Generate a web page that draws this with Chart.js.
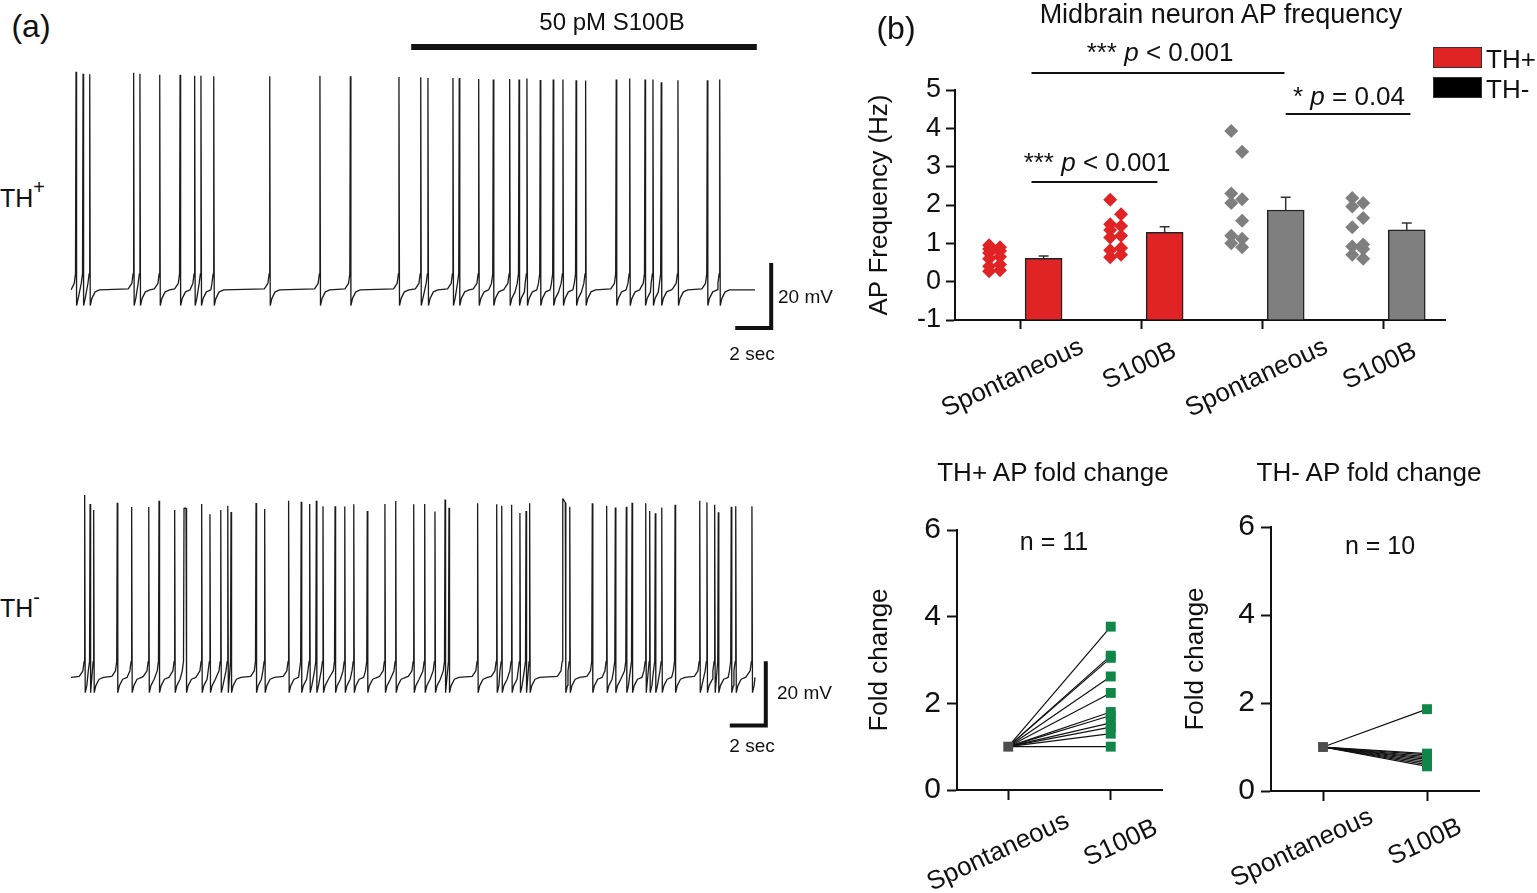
<!DOCTYPE html>
<html>
<head>
<meta charset="utf-8">
<title>Midbrain neuron AP frequency</title>
<script src="https://cdn.jsdelivr.net/npm/chart.js@4.4.1/dist/chart.umd.min.js"></script>
<style>
  body { margin: 0; background: #fff; font-family: "Liberation Sans", Arial, sans-serif; color: #111; }
  #page { position: relative; width: 1537px; height: 893px; overflow: hidden; }
  canvas { position: absolute; }
  .t { position: absolute; white-space: nowrap; line-height: 1; }
  .c { transform: translate(-50%, -50%); }
  .m { transform: translateY(-50%); }
  .box { position: absolute; box-sizing: border-box; border: 1.5px solid #333; }
  sup { font-size: 80%; vertical-align: 0.65em; line-height: 0; }
</style>
</head>
<body>
<div id="page">
  <canvas id="thPlusTrace" width="720" height="312" style="left:71px;top:30px"></canvas>
  <canvas id="thMinusTrace" width="720" height="250" style="left:71px;top:485px"></canvas>
  <canvas id="freqChart" width="677" height="440" style="left:860px;top:0px"></canvas>
  <canvas id="foldPlus" width="320" height="443" style="left:860px;top:450px"></canvas>
  <canvas id="foldMinus" width="357" height="443" style="left:1180px;top:450px"></canvas>

  <div class="t c" style="left:31px;top:26px;font-size:32px">(a)</div>
  <div class="t c" style="left:896px;top:28px;font-size:32px">(b)</div>
  <div class="t c" style="left:612px;top:22px;font-size:24px">50 pM S100B</div>
  <div class="t m" style="left:0px;top:198px;font-size:25px">TH<sup>+</sup></div>
  <div class="t m" style="left:0px;top:608px;font-size:25px">TH<sup>-</sup></div>
  <div class="t m" style="left:778px;top:296px;font-size:19px">20 mV</div>
  <div class="t c" style="left:752px;top:353px;font-size:19px">2 sec</div>
  <div class="t m" style="left:777px;top:692px;font-size:19px">20 mV</div>
  <div class="t c" style="left:752px;top:745px;font-size:19px">2 sec</div>

  <div class="t c" style="left:1221px;top:14px;font-size:27px">Midbrain neuron AP frequency</div>
  <div class="t c" style="left:1160px;top:52px;font-size:26px">*** <i>p</i> &lt; 0.001</div>
  <div class="t c" style="left:1097px;top:162px;font-size:26px">*** <i>p</i> &lt; 0.001</div>
  <div class="t c" style="left:1349px;top:96px;font-size:26px">* <i>p</i> = 0.04</div>
  <div class="box" style="left:1433px;top:47px;width:49px;height:21px;background:#e02426"></div>
  <div class="box" style="left:1433px;top:77px;width:49px;height:21px;background:#000"></div>
  <div class="t m" style="left:1486px;top:59px;font-size:26px">TH+</div>
  <div class="t m" style="left:1486px;top:89px;font-size:26px">TH-</div>

  <div class="t c" style="left:1053px;top:472px;font-size:26px">TH+ AP fold change</div>
  <div class="t c" style="left:1369px;top:472px;font-size:26px">TH- AP fold change</div>
  <div class="t c" style="left:1054px;top:541px;font-size:25px">n = 11</div>
  <div class="t c" style="left:1380px;top:545px;font-size:25px">n = 10</div>
</div>

<script>
// ---- data ----
// (a) spike times (s) and spike peaks (mV), baseline about -50 mV
var thPlusSpikeTimes = [0.28, 0.67, 1.04, 3.48, 3.83, 4.93, 6.06, 6.87, 7.22, 7.93, 11.04, 13.83, 15.52, 18.22,
    19.43, 19.83, 21.22, 21.57, 22.65, 23.46, 24.37, 24.89, 25.33, 26.07, 26.79, 27.33, 28.06, 28.59,
    30.29, 31.04, 31.89, 32.33, 32.79, 33.72, 35.35, 36.04];
var thPlusSpikePeaks = [17.0, 16.4, 16.2, 16.7, 16.4, 16.1, 16.1, 15.8, 15.8, 15.6, 15.6, 15.8, 15.6, 15.4,
    15.3, 15.1, 15.1, 15.1, 14.8, 14.6, 14.8, 14.6, 14.9, 14.5, 14.6, 14.6, 14.4, 14.3,
    14.6, 14.9, 14.6, 14.6, 13.8, 14.4, 14.4, 14.6];
var thMinusSpikeTimes = [0.76, 1.06, 1.26, 2.57, 3.37, 4.32, 4.89, 5.76, 6.28, 6.39, 7.26, 7.72, 8.32, 8.71, 8.89,
    10.28, 10.76, 12.09, 12.79, 13.26, 13.63, 14.0, 14.67, 15.21, 15.71, 16.46, 17.44, 18.04, 19.04,
    19.65, 20.22, 20.78, 21.0, 22.59, 23.65, 23.93, 24.48, 24.94, 25.28, 25.48, 27.32, 27.46, 27.71,
    28.96, 29.76, 30.24, 30.85, 31.17, 31.93, 32.15, 32.46, 32.82, 33.56, 34.93, 35.33, 35.76, 35.96,
    36.68, 36.93, 37.83];
var thMinusSpikePeaks = [6.9, 4.1, 2.2, 4.5, 3.1, 3.1, 5.1, 2.2, 2.8, 2.8, 4.1, 0.9, 2.2, 3.5, 1.6,
    4.4, 2.5, 5.1, 4.8, 4.1, 5.1, 3.4, 3.4, 3.3, 4.0, 1.9, 4.1, 5.0, 4.0,
    4.1, 1.7, 5.5, 2.9, 4.3, 4.0, 3.5, 3.8, 1.3, 1.9, 4.3, 5.8, 4.5, 3.2,
    4.3, 3.5, 3.0, 3.2, 4.5, 4.3, 1.9, 1.2, 3.0, 3.8, 5.1, 4.6, 3.8, 1.5,
    3.2, 3.4, 3.4];
var restingMv = -50;
var recordEnd = 38;          // s
var drugOn = [18.9, 38.1];   // 50 pM S100B
var scaleBarSec = 2;
var scaleBarMv = 20;

// (b) AP frequency (Hz)
var freqCategories = ['Spontaneous', 'S100B', 'Spontaneous', 'S100B'];
var freqTicks = [-1, 0, 1, 2, 3, 4, 5];
var freqMeans = [0.61, 1.29, 1.87, 1.35];
var freqSem = [0.06, 0.14, 0.33, 0.18];
var thPlusSpontHz = [0.95, 0.9, 0.85, 0.8, 0.75, 0.65, 0.6, 0.45, 0.4, 0.3, 0.27];
var thPlusS100bHz = [2.14, 1.76, 1.5, 1.45, 1.35, 1.2, 1.15, 0.88, 0.82, 0.7, 0.64];
var thMinusSpontHz = [3.93, 3.39, 2.3, 2.15, 2.05, 1.59, 1.2, 1.12, 1.0, 0.9];
var thMinusS100bHz = [2.18, 2.05, 1.96, 1.66, 1.42, 0.97, 0.92, 0.85, 0.7, 0.6];

// fold change
var foldCategories = ['Spontaneous', 'S100B'];
var foldTicks = [0, 2, 4, 6];
var thPlusFold = [3.77, 3.1, 3.05, 2.62, 2.24, 1.8, 1.72, 1.55, 1.45, 1.3, 1.0];
var thMinusFold = [1.86, 0.85, 0.82, 0.78, 0.75, 0.72, 0.68, 0.64, 0.6, 0.56];

// ---- drawing ----
var FONT = '"Liberation Sans", Arial, sans-serif';
var RED = '#e02426', GRAY = '#7f7f7f', GREEN = '#108648', INK = '#111';
Chart.defaults.font.family = FONT;
Chart.defaults.color = INK;

// spike waveform relative to rest: [dt (s), dV (mV)], null = peak
var spikeShape = [[-0.3, 0.3], [-0.1, 2], [-0.03, 5], [0, null], [0.03, -4.8], [0.12, -2.6], [0.3, -0.6], [0.55, 0]];

function buildTrace(times, peaks) {
    var pts = [{x: 0, y: restingMv}];
    times.forEach(function (t, i) {
        var prev = i > 0 ? times[i - 1] : -10;
        var next = i < times.length - 1 ? times[i + 1] : recordEnd + 10;
        spikeShape.forEach(function (s) {
            var x = t + s[0];
            if (s[0] > 0 && x >= next - 0.12) return;
            if (s[0] < 0 && (x <= prev + 0.12 || (s[0] < -0.1 && x <= prev + 0.6))) return;
            if (x < 0 || x > recordEnd) return;
            pts.push({x: x, y: s[1] === null ? peaks[i] : restingMv + s[1]});
        });
    });
    pts.push({x: recordEnd, y: restingMv});
    pts.sort(function (a, b) { return a.x - b.x; });
    return pts;
}

function traceMarks(id, barStart, mvStart, withDrug) {
    return {
        id: id,
        afterDraw: function (chart) {
            var ctx = chart.ctx, x = chart.scales.x, y = chart.scales.y;
            ctx.save();
            ctx.strokeStyle = INK;
            ctx.lineWidth = 4;
            var xa = x.getPixelForValue(barStart), xb = x.getPixelForValue(barStart + scaleBarSec);
            var ya = y.getPixelForValue(mvStart), yb = y.getPixelForValue(mvStart + scaleBarMv);
            ctx.beginPath();
            ctx.moveTo(xa, ya);
            ctx.lineTo(xb, ya);
            ctx.lineTo(xb, yb);
            ctx.stroke();
            if (withDrug) {
                var d0 = x.getPixelForValue(drugOn[0]), d1 = x.getPixelForValue(drugOn[1]);
                ctx.fillStyle = INK;
                ctx.fillRect(d0, 14, d1 - d0, 6);
            }
            ctx.restore();
        }
    };
}

function traceChart(canvasId, points, yMin, yMax, padTop, marks) {
    return new Chart(document.getElementById(canvasId), {
        type: 'line',
        data: {datasets: [{data: points, borderColor: '#1b1b1b', borderWidth: 1.3, pointRadius: 0,
            tension: 0, borderJoinStyle: 'bevel', fill: false}]},
        options: {
            responsive: false, animation: false, events: [],
            layout: {padding: {top: padTop, left: 0, right: 0, bottom: 0}},
            scales: {
                x: {type: 'linear', min: 0, max: 40, display: false},
                y: {type: 'linear', min: yMin, max: yMax, display: false}
            },
            plugins: {legend: {display: false}, tooltip: {enabled: false}}
        },
        plugins: [marks]
    });
}

traceChart('thPlusTrace', buildTrace(thPlusSpikeTimes, thPlusSpikePeaks), -66, 20, 32,
    traceMarks('plusMarks', 36.9, -61.7, true));
traceChart('thMinusTrace', buildTrace(thMinusSpikeTimes, thMinusSpikePeaks), -68, 10, 0,
    traceMarks('minusMarks', 36.6, -65, false));

// centred, tilted category labels under the x axis; nudge = [dx, dy] per label
function categoryLabels(id, labels, size, angle, gap, nudge) {
    return {
        id: id,
        afterDraw: function (chart) {
            var ctx = chart.ctx, xs = chart.scales.x, a = angle * Math.PI / 180;
            ctx.save();
            ctx.font = size + 'px ' + FONT;
            ctx.fillStyle = INK;
            ctx.textAlign = 'center';
            ctx.textBaseline = 'middle';
            labels.forEach(function (lab, i) {
                var w = ctx.measureText(lab).width;
                var half = (w * Math.sin(a) + size * Math.cos(a)) / 2;
                ctx.save();
                ctx.translate(xs.getPixelForValue(i) + nudge[i][0], xs.top + gap + half + nudge[i][1]);
                ctx.rotate(-a);
                ctx.fillText(lab, 0, 0);
                ctx.restore();
            });
            ctx.restore();
        }
    };
}

var BAR_SHIFT = 0.19, DOT_SHIFT = -0.215;
function jittered(values, cat) {
    return values.map(function (v, i) {
        return {x: cat + DOT_SHIFT + (i % 2 ? 0.045 : -0.045), y: v};
    });
}

var errorBars = {
    id: 'errorBars',
    afterDatasetsDraw: function (chart) {
        var ctx = chart.ctx, xs = chart.scales.x, ys = chart.scales.y;
        ctx.save();
        ctx.strokeStyle = '#333';
        ctx.lineWidth = 1.5;
        freqMeans.forEach(function (m, i) {
            var px = xs.getPixelForValue(i + BAR_SHIFT);
            var y0 = ys.getPixelForValue(m), y1 = ys.getPixelForValue(m + freqSem[i]);
            ctx.beginPath();
            ctx.moveTo(px, y0);
            ctx.lineTo(px, y1);
            ctx.moveTo(px - 5, y1);
            ctx.lineTo(px + 5, y1);
            ctx.stroke();
        });
        ctx.restore();
    }
};

// significance brackets: category span and height in Hz
var sigBrackets = [[0.09, 2.18, 5.44], [0.09, 1.13, 2.6], [2.19, 3.22, 4.37]];
var sigLines = {
    id: 'sigLines',
    afterDraw: function (chart) {
        var ctx = chart.ctx, xs = chart.scales.x, ys = chart.scales.y;
        ctx.save();
        ctx.strokeStyle = INK;
        ctx.lineWidth = 2;
        sigBrackets.forEach(function (b) {
            var y = Math.round(ys.getPixelForValue(b[2]));
            ctx.beginPath();
            ctx.moveTo(xs.getPixelForValue(b[0]), y);
            ctx.lineTo(xs.getPixelForValue(b[1]), y);
            ctx.stroke();
        });
        ctx.restore();
    }
};

function diamonds(values, cat, color) {
    return {type: 'scatter', data: jittered(values, cat), backgroundColor: color, borderWidth: 0,
        pointStyle: 'rectRot', pointRadius: 7, pointBorderWidth: 0};
}

new Chart(document.getElementById('freqChart'), {
    type: 'bar',
    data: {
        datasets: [
            diamonds(thPlusSpontHz, 0, RED),
            diamonds(thPlusS100bHz, 1, RED),
            diamonds(thMinusSpontHz, 2, GRAY),
            diamonds(thMinusS100bHz, 3, GRAY),
            {
                type: 'bar',
                data: freqMeans.map(function (v, i) { return {x: i + BAR_SHIFT, y: v}; }),
                backgroundColor: [RED, RED, GRAY, GRAY],
                borderColor: '#222',
                borderWidth: 1.5,
                barThickness: 37,
                base: -1
            }
        ]
    },
    options: {
        responsive: false, animation: false, events: [],
        layout: {padding: {top: 90, right: 92, bottom: 0, left: 0}},
        scales: {
            x: {
                type: 'linear', min: -0.542, max: 3.506, offset: false,
                afterBuildTicks: function (s) { s.ticks = freqCategories.map(function (c, i) { return {value: i}; }); },
                afterFit: function (s) { s.height = 120; },
                ticks: {display: false},
                grid: {offset: false, drawOnChartArea: false, tickLength: 9, tickWidth: 2, tickColor: INK},
                border: {display: true, width: 2, color: INK}
            },
            y: {
                type: 'linear', min: -1, max: 5,
                afterBuildTicks: function (s) { s.ticks = freqTicks.map(function (v) { return {value: v}; }); },
                afterFit: function (s) { s.width = 95; },
                ticks: {font: {size: 27}, color: INK, padding: 5},
                grid: {drawOnChartArea: false, tickLength: 9, tickWidth: 2, tickColor: INK},
                border: {display: true, width: 2, color: INK},
                title: {display: true, text: 'AP Frequency (Hz)', font: {size: 26}, color: INK, padding: {top: 4, bottom: 0}}
            }
        },
        plugins: {legend: {display: false}, tooltip: {enabled: false}}
    },
    plugins: [errorBars, sigLines,
        categoryLabels('freqLabels', freqCategories, 26, 25, 14, [[-8, 0], [-2, 4], [-6, 0], [-4, 4]])]
});

function foldChart(canvasId, values, pad, yWidth, xHeight, titlePad, labels) {
    var sets = [
        {type: 'scatter', data: [{x: 0, y: 1}], backgroundColor: '#4d4d4d', pointStyle: 'rect', pointRadius: 7, pointBorderWidth: 0},
        {type: 'scatter', data: values.map(function (v) { return {x: 1, y: v}; }), backgroundColor: GREEN,
            pointStyle: 'rect', pointRadius: 7, pointBorderWidth: 0}
    ];
    values.forEach(function (v) {
        sets.push({data: [{x: 0, y: 1}, {x: 1, y: v}], borderColor: INK, borderWidth: 1.2, pointRadius: 0, tension: 0, fill: false});
    });
    return new Chart(document.getElementById(canvasId), {
        type: 'line',
        data: {datasets: sets},
        options: {
            responsive: false, animation: false, events: [],
            layout: {padding: pad},
            scales: {
                x: {
                    type: 'linear', min: -0.5, max: 1.5,
                    afterBuildTicks: function (s) { s.ticks = foldCategories.map(function (c, i) { return {value: i}; }); },
                    afterFit: function (s) { s.height = xHeight; },
                    ticks: {display: false},
                    grid: {drawOnChartArea: false, tickLength: 10, tickWidth: 2, tickColor: INK},
                    border: {display: true, width: 2, color: INK}
                },
                y: {
                    type: 'linear', min: 0, max: 6,
                    afterBuildTicks: function (s) { s.ticks = foldTicks.map(function (v) { return {value: v}; }); },
                    afterFit: function (s) { s.width = yWidth; },
                    ticks: {font: {size: 30}, color: INK, padding: 6},
                    grid: {drawOnChartArea: false, tickLength: 10, tickWidth: 2, tickColor: INK},
                    border: {display: true, width: 2, color: INK},
                    title: {display: true, text: 'Fold change', font: {size: 26}, color: INK, padding: {top: titlePad, bottom: 0}}
                }
            },
            plugins: {legend: {display: false}, tooltip: {enabled: false}}
        },
        plugins: [labels]
    });
}

foldChart('foldPlus', thPlusFold, {top: 80, right: 18, bottom: 0, left: 0}, 97, 103, 4,
    categoryLabels('plusLabels', foldCategories, 26, 25, 18, [[-10, 0], [10, 7]]));
foldChart('foldMinus', thMinusFold, {top: 77, right: 58, bottom: 0, left: 0}, 91, 102, 0,
    categoryLabels('minusLabels', foldCategories, 26, 25, 13, [[-21, 0], [-2, 10]]));
</script>
</body>
</html>
